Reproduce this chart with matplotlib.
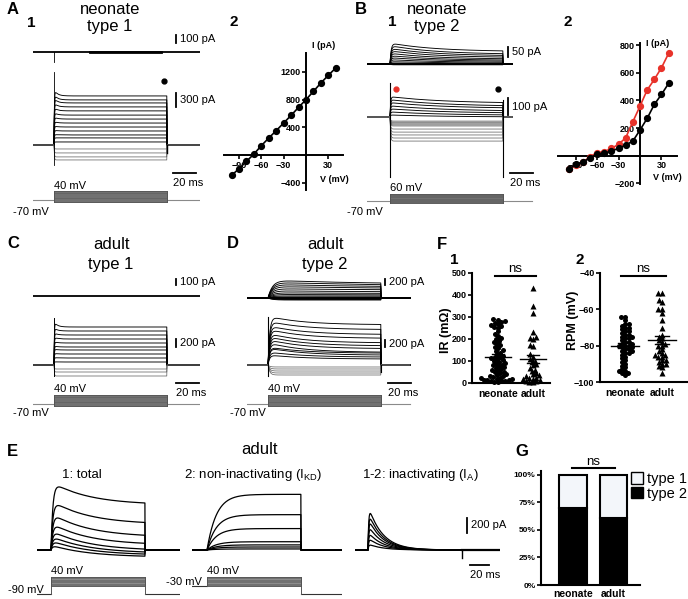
import numpy as np
import matplotlib
matplotlib.use('Agg')
import matplotlib.pyplot as plt
from matplotlib.patches import Patch

plt.rcParams['font.family'] = ['Liberation Sans', 'DejaVu Sans']
plt.rcParams['mathtext.fontset'] = 'custom'
plt.rcParams['mathtext.rm'] = 'Liberation Sans'
plt.rcParams['mathtext.it'] = 'Liberation Sans:italic'
plt.rcParams['mathtext.bf'] = 'Liberation Sans:bold'

# ---------------- data ----------------
# A2 / B2 : I-V curves
iv_v = [-100, -90, -80, -70, -60, -50, -40, -30, -20, -10, 0, 10, 20, 30, 40]
A_iv = [-294, -198, -92, 14, 135, 246, 352, 463, 573, 689, 800, 920, 1041, 1152, 1258]
B_iv_black = [-99, -63, -48, -14, 10, 17, 34, 53, 77, 106, 186, 270, 371, 443, 523]
B_iv_red = [-99, -67, -48, -7, 22, 29, 53, 82, 130, 246, 359, 475, 552, 636, 740]

# voltage protocols (mV)
steps_A = [-100, -90, -80, -70, -60, -50, -40, -30, -20, -10, 0, 10, 20, 30, 40]
steps_B = [-100, -90, -80, -70, -60, -50, -40, -30, -20, -10, 0, 10, 20, 30, 40, 50, 60]
steps_E = [-30, -20, -10, 0, 10, 20, 30, 40]

# current families (pA): initial amplitude / steady amplitude per sweep
A_low_peak = [1180, 1075, 995, 895, 795, 690, 595, 500, 405, 315, 225, 155, 65, -85, -170, -255, -320]
A_low_ss = [1050, 965, 900, 815, 730, 640, 555, 470, 385, 300, 215, 150, 65, -85, -170, -255, -320]
A_low_cap = (-430, 1560)
A_dot = (97, 1370)

B_up_peak = [105, 92, 78, 66, 54, 42, 32, 22, 12, 5, 0, -2, -4]
B_up_ss = [62, 48, 40, 32, 24, 18, 13, 8, 4, 1, 0, -2, -4]
B_low_peak = [120, 102, 85, 66, 48, 30, 12, -24, -30, -35, -41, -47, -53, -71, -89, -106, -124, -142]
B_low_ss = [80, 62, 50, 34, 22, 10, 0, -24, -30, -35, -41, -47, -53, -71, -89, -106, -124, -142]
B_low_cap = (-354, 200)
B_dot_red = (5, 163)
B_dot_black = (96, 163)

C_low_peak = [1075, 925, 800, 690, 580, 475, 395, 290, 185, 80, -100, -175, -275]
C_low_ss = [950, 850, 750, 650, 550, 450, 375, 275, 175, 75, -100, -175, -275]
C_low_cap = (-275, 1175)

D_up_peak = [600, 530, 460, 390, 315, 245, 175, 120, 70, 35, 0, -33, -50, -67]
D_up_ss = [460, 410, 360, 312, 262, 198, 148, 100, 66, 33, 0, -33, -50, -67]
D_low_peak = [1400, 1260, 1130, 1030, 910, 820, 730, 640, 520, 490, 375, 290, -57, -114, -172, -229, -286]
D_low_ss = [1150, 1010, 870, 760, 630, 545, 465, 360, 335, 280, 225, 170, -57, -114, -172, -229, -286]
D_low_cap = (-315, 1372)

E1_peak = [910, 660, 490, 360, 260, 185, 125, 65]
E1_ss = [600, 340, 170, 65, -10, -45, -70, -95]
E2_ss = [740, 470, 285, 110, 68, 40, 14]
E3_peak = [600, 506, 426, 333, 240, 160, 80]

# F : scatter
IR_neonate = [290, 288, 282, 278, 275, 270, 262, 258, 255, 252, 235, 225, 215, 205, 200,
              192, 185, 178, 172, 165, 160, 150, 145, 138, 130, 125, 120, 118, 112, 108,
              104, 100, 96, 92, 88, 84, 80, 76, 72, 68, 64, 60, 56, 52, 48, 44, 40, 36,
              32, 30, 28, 25, 22, 20, 18, 15, 15, 12, 10, 10, 8, 5, 5]
IR_adult = [430, 350, 320, 230, 210, 205, 200, 175, 170, 130, 120, 110, 100, 95, 85, 80,
            70, 60, 55, 45, 40, 35, 30, 25, 22, 20, 18, 15, 10, 8, 5, 3]
RPM_neonate = [-64, -64, -66, -68, -68, -69, -70, -70, -71, -72, -72, -73, -74, -74, -75,
               -75, -76, -76, -77, -78, -78, -79, -79, -80, -80, -80, -81, -81, -82, -82,
               -83, -83, -84, -84, -85, -86, -87, -88, -89, -90, -91, -92, -93, -94, -94,
               -95, -95, -96]
RPM_adult = [-51, -51, -55, -56, -60, -60, -62, -66, -70, -74, -75, -76, -77, -78, -79,
             -80, -80, -82, -83, -84, -85, -85, -86, -86, -88, -88, -89, -90, -90, -91,
             -92, -95]
groups = ['neonate', 'adult']

# G : fraction of type 2 (%)
type2_pct = [70, 61]

# ---------------- figure ----------------
W, H = 688, 599
fig = plt.figure(figsize=(W / 100, H / 100), dpi=100)


def box(x0, y0, x1, y1):
    return [x0 / W, 1 - y1 / H, (x1 - x0) / W, (y1 - y0) / H]


def txt(x, y, s, size=8, **kw):
    kw.setdefault('va', 'center')
    fig.text(x / W, 1 - y / H, s, fontsize=size, **kw)


class Tr:
    # trace axes: time in ms on x, current (or voltage) on y
    def __init__(self, x0, x1, y0, y1, x_on, base, k, pxms=1.13):
        self.ax = fig.add_axes(box(x0, y0, x1, y1))
        self.ax.axis('off')
        self.x_on, self.base, self.k, self.pxms = x_on, base, k, pxms
        self.ax.set_xlim(self.t(x0), self.t(x1))
        self.ax.set_ylim(self.i(y1), self.i(y0))

    def t(self, x):
        return (x - self.x_on) / self.pxms

    def i(self, y):
        return (self.base - y) * self.k

    def vbar(self, x, ybot, amount, label):
        self.ax.plot([self.t(x)] * 2, [self.i(ybot), self.i(ybot) + amount], color='k', lw=1.3)
        txt(x + 4, ybot - amount / self.k / 2, label, 8)

    def hbar(self, x, y, label):
        self.ax.plot([self.t(x), self.t(x) + 20], [self.i(y)] * 2, color='k', lw=1.3)
        txt(x, y + 10, label, 8)


def family(tr, peaks, sss, t_act, t_in, x0, x1, lw=0.65, gray_neg=True, dur=100):
    t = np.arange(tr.t(x0), tr.t(x1), 0.2)
    on = (t >= 0) & (t <= dur)
    for p, s in zip(peaks, sss):
        y = np.zeros_like(t)
        tt = t[on]
        y[on] = (s + (p - s) * np.exp(-tt / t_in)) * (1 - np.exp(-tt / t_act))
        col = '#5a5a5a' if (gray_neg and s < 0) else 'k'
        tr.ax.plot(t, y, color=col, lw=lw if col == 'k' else 0.5)


def flat(tr, x0, x1, lw=1.2):
    tr.ax.plot([tr.t(x0), tr.t(x1)], [0, 0], color='k', lw=lw)


def stim(tr, steps, x0, x1, pre, post, dur=100, holdcol='#8a8a8a'):
    lo, hi = min(steps), max(steps)
    ax = tr.ax
    ax.plot([tr.t(x0), 0], [pre, pre], color=holdcol, lw=0.8)
    ax.plot([dur, tr.t(x1)], [post, post], color=holdcol, lw=0.8)
    ax.plot([0, 0], [min(pre, lo), hi], color='#555555', lw=0.7)
    ax.plot([dur, dur], [min(post, lo), hi], color='#555555', lw=0.7)
    ax.fill_between([0, dur], lo, hi, color='#8c8c8c', lw=0)
    for v in steps:
        ax.plot([0, dur], [v, v], color='#5c5c5c', lw=0.4)
    ax.plot([0, dur, dur, 0, 0], [lo, lo, hi, hi, lo], color='#555555', lw=0.6)


# ---------- panel A ----------
A_up = Tr(33, 200, 30, 70, 54, 52, 12.5)
flat(A_up, 33, 200, 1.3)
A_up.ax.plot([A_up.t(90), 95], [0, 0], color='k', lw=2.0)
A_up.ax.plot([0, 0], [0, -125], color='k', lw=0.6)
A_up.vbar(176, 43, 100, '100 pA')

A_low = Tr(33, 200, 70, 180, 54, 145, 21.4)
family(A_low, A_low_peak, A_low_ss, 0.3, 3, 33, 200)
A_low.ax.plot([0, 0], A_low_cap, color='k', lw=0.6)
A_low.ax.plot([100, 100], [A_low_cap[0] * 0.4, 0], color='k', lw=1.0)
A_low.ax.plot(*A_dot, 'o', color='k', ms=3.5)
A_low.vbar(176, 107, 300, '300 pA')
A_low.hbar(173, 173, '20 ms')

A_st = Tr(33, 200, 185, 210, 54, 194.3, 12.22)
stim(A_st, steps_A, 33, 200, -70, -70)
txt(54, 186, '40 mV', 8)
txt(13, 212, '-70 mV', 8)

# A2 / B2 I-V


def iv_axes(x0, x1, y0, y1, xlim, ylim, yticks):
    ax = fig.add_axes(box(x0, y0, x1, y1))
    ax.patch.set_alpha(0)
    ax.set_xlim(*xlim)
    ax.set_ylim(*ylim)
    for s in ['top', 'right']:
        ax.spines[s].set_visible(False)
    for s in ['left', 'bottom']:
        ax.spines[s].set_position(('data', 0))
        ax.spines[s].set_linewidth(1.4)
    ax.set_xticks([-90, -60, -30, 30])
    ax.set_yticks(yticks)
    ax.tick_params(length=3, width=1.2, labelsize=6.5, pad=1)
    for lab in ax.get_xticklabels() + ax.get_yticklabels():
        lab.set_fontweight('bold')
    return ax


A2 = iv_axes(224, 343, 53, 190, (-110.2, 49.7), (-506, 1474), [-400, 400, 800, 1200])
A2.plot(iv_v, A_iv, '-o', color='k', lw=1.2, ms=4.2, clip_on=False, zorder=3)
txt(312, 45, 'I (pA)', 6.5, weight='bold')
txt(320, 179, 'V (mV)', 6.5, weight='bold')

B2 = iv_axes(558, 677, 43, 184, (-114.7, 51.7), (-204.6, 815), [-200, 200, 400, 600, 800])
B2.plot(iv_v, B_iv_red, '-o', color='#e8322a', lw=1.2, ms=4.2, clip_on=False, zorder=3)
B2.plot(iv_v, B_iv_black, '-o', color='k', lw=1.2, ms=4.2, clip_on=False, zorder=4)
txt(646, 44, 'I (pA)', 6.5, weight='bold')
txt(653, 178, 'V (mV)', 6.5, weight='bold')

# ---------- panel B ----------
B_up = Tr(367, 535, 35, 70, 390, 64, 5)
family(B_up, B_up_peak, B_up_ss, 1.0, 40, 367, 512, gray_neg=False)
flat(B_up, 367, 512, 1.4)
B_up.vbar(508, 57, 50, '50 pA')

B_low = Tr(367, 535, 75, 180, 390, 117, 5.9)
family(B_low, B_low_peak, B_low_ss, 0.5, 50, 367, 512)
B_low.ax.plot([0, 0], B_low_cap, color='k', lw=0.8)
B_low.ax.plot([100, 100], [B_low_cap[0], 100], color='k', lw=0.8)
B_low.ax.plot(*B_dot_red, 'o', color='#e8322a', ms=3.5)
B_low.ax.plot(*B_dot_black, 'o', color='k', ms=3.5)
B_low.vbar(508, 115, 100, '100 pA')
B_low.hbar(510, 173, '20 ms')

B_st = Tr(367, 535, 188, 208, 390, 197.4, 17.78)
stim(B_st, steps_B, 367, 532, -70, -70)
txt(390, 188, '60 mV', 8)
txt(347, 212, '-70 mV', 8)

# ---------- panel C ----------
C_up = Tr(33, 200, 275, 305, 54, 296, 16.7)
flat(C_up, 33, 200, 1.3)
C_up.vbar(176, 285, 100, '100 pA')

C_low = Tr(33, 200, 315, 388, 54, 365, 25)
family(C_low, C_low_peak, C_low_ss, 0.3, 3, 33, 200)
C_low.ax.plot([0, 0], C_low_cap, color='k', lw=0.7)
C_low.vbar(176, 347, 200, '200 pA')
C_low.hbar(176, 383, '20 ms')

C_st = Tr(33, 200, 390, 412, 54, 398.3, 12.22)
stim(C_st, steps_A, 33, 200, -70, -70)
txt(54, 389, '40 mV', 8)
txt(13, 413, '-70 mV', 8)

# ---------- panel D ----------
D_up = Tr(247, 412, 275, 305, 268, 298, 33.3)
family(D_up, D_up_peak, D_up_ss, 4, 80, 247, 410, gray_neg=False)
flat(D_up, 247, 410, 1.4)
D_up.vbar(385, 285, 200, '200 pA')

D_low = Tr(247, 412, 315, 388, 268, 365, 28.6)
family(D_low, D_low_peak, D_low_ss, 1.5, 30, 247, 410)
D_low.ax.plot([0, 0], D_low_cap, color='k', lw=0.8)
D_low.ax.plot([100, 100], [D_low_cap[0] * 0.6, 0], color='k', lw=0.8)
D_low.vbar(385, 347, 200, '200 pA')
D_low.hbar(388, 383, '20 ms')

D_st = Tr(247, 412, 390, 412, 268, 398.3, 12.22)
stim(D_st, steps_A, 247, 410, -70, -70)
txt(268, 389, '40 mV', 8)
txt(230, 413, '-70 mV', 8)

# ---------- panel E ----------
E1 = Tr(37, 180, 480, 565, 51, 550, 13.3, pxms=0.94)
family(E1, E1_peak, E1_ss, 2, 40, 37, 180, lw=0.9, gray_neg=False)
E2 = Tr(192, 342, 480, 565, 207, 550, 13.3, pxms=0.94)
family(E2, E2_ss, E2_ss, 10, 1e9, 192, 342, lw=0.9, gray_neg=False)
E3 = Tr(355, 500, 480, 570, 368, 550, 13.3, pxms=0.94)
family(E3, E3_peak, [0] * len(E3_peak), 0.8, 15, 355, 500, lw=0.9, gray_neg=False)
E3.ax.plot([100, 100], [-100, 0], color='k', lw=1.0)
E3.ax.plot([100, E3.t(500)], [0, 0], color='k', lw=1.6)
E3.vbar(467, 533, 200, '200 pA')
E3.hbar(470, 565, '20 ms')

E1_st = Tr(37, 180, 570, 598, 51, 582.2, 7.647, pxms=0.94)
stim(E1_st, steps_E, 37, 180, -90, -90, holdcol='#333333')
E2_st = Tr(192, 342, 570, 598, 207, 582.2, 7.647, pxms=0.94)
stim(E2_st, steps_E, 192, 342, -30, -90, holdcol='#333333')
txt(51, 571, '40 mV', 8)
txt(8, 590, '-90 mV', 8)
txt(207, 571, '40 mV', 8)
txt(166, 582, '-30 mV', 8)

# ---------- panel F ----------


def swarm(vals, ppx, ppy, d):
    vals = np.asarray(vals, float)
    xs = np.zeros(len(vals))
    placed = []
    for idx in np.argsort(vals):
        y = vals[idx] * ppy
        bad = []
        for px, py in placed:
            dy = abs(py - y)
            if dy < d:
                w = np.sqrt(d * d - dy * dy)
                bad.append((px - w, px + w))
        cands = sorted([0.0] + [b for iv in bad for b in iv], key=abs)
        x = 0.0
        for c in cands:
            if all(not (lo + 1e-6 < c < hi - 1e-6) for lo, hi in bad):
                x = c
                break
        placed.append((x, y))
        xs[idx] = x / ppx
    return xs


def dot_axes(x0, x1, y0, y1, xlim, ylim, yticks, data, ppx, ppy, ns_y, ns_t):
    ax = fig.add_axes(box(x0, y0, x1, y1))
    ax.patch.set_alpha(0)
    ax.set_xlim(*xlim)
    ax.set_ylim(*ylim)
    for s in ['top', 'right']:
        ax.spines[s].set_visible(False)
    for s in ['left', 'bottom']:
        ax.spines[s].set_linewidth(1.5)
    ax.set_yticks(yticks)
    ax.set_xticks([0, 1])
    ax.set_xticklabels(groups)
    ax.tick_params(axis='y', length=3, width=1.2, labelsize=6.5, pad=1)
    ax.tick_params(axis='x', length=0, labelsize=7.5, pad=4)
    for lab in ax.get_xticklabels() + ax.get_yticklabels():
        lab.set_fontweight('bold')
    for i, (vals, mk) in enumerate(zip(data, ['o', '^'])):
        base = ylim[0]
        xs = swarm(np.asarray(vals) - base, ppx, ppy, 3.6)
        ax.plot(i + xs, vals, mk, color='k', ms=3.6 if mk == 'o' else 3.8,
                mec='none', clip_on=False)
        m = np.mean(vals)
        sem = np.std(vals, ddof=1) / np.sqrt(len(vals))
        ax.plot([i - 0.38, i + 0.38], [m, m], color='k', lw=1.0)
        ax.plot([i, i], [m - sem, m + sem], color='k', lw=1.0)
        for e in (m - sem, m + sem):
            ax.plot([i - 0.18, i + 0.18], [e, e], color='k', lw=1.0)
    ax.plot([-0.1, 1.1], [ns_y, ns_y], color='k', lw=1.5, clip_on=False)
    ax.text(0.5, ns_t, 'ns', ha='center', va='center', fontsize=9.5)
    return ax


F1 = dot_axes(472, 550, 273, 383, (-0.743, 1.486), (0, 500), [0, 100, 200, 300, 400, 500],
              [IR_neonate, IR_adult], 35, 0.22, 486, 518)
F2 = dot_axes(600, 687, 273, 382, (-0.676, 1.676), (-100, -40), [-100, -80, -60, -40],
              [RPM_neonate, RPM_adult], 37, 1.817, -41.7, -37.8)
txt(446, 330, 'IR (m\u03a9)', 9, weight='bold', rotation=90, ha='center')
txt(573, 320, 'RPM (mV)', 9, weight='bold', rotation=90, ha='center')

# ---------- panel G ----------
G = fig.add_axes(box(541, 471, 640, 585))
G.patch.set_alpha(0)
G.set_xlim(-0.79, 1.65)
G.set_ylim(0, 103.6)
type1_pct = [100 - v for v in type2_pct]
G.bar([0, 1], type2_pct, width=0.67, color='k', edgecolor='k', lw=1.5)
G.bar([0, 1], type1_pct, bottom=type2_pct, width=0.67, color='#f3f6fa', edgecolor='k', lw=1.5)
for s in ['top', 'right']:
    G.spines[s].set_visible(False)
for s in ['left', 'bottom']:
    G.spines[s].set_linewidth(1.5)
G.set_yticks([0, 25, 50, 75, 100])
G.set_yticklabels(['0%', '25%', '50%', '75%', '100%'])
G.set_xticks([0, 1])
G.set_xticklabels(groups)
G.tick_params(axis='y', length=3, width=1.2, labelsize=6, pad=1)
G.tick_params(axis='x', length=0, labelsize=7.5, pad=3)
for lab in G.get_xticklabels() + G.get_yticklabels():
    lab.set_fontweight('bold')
G.plot([-0.02, 1.04], [106.4, 106.4], color='k', lw=1.5, clip_on=False)
G.text(0.5, 111.8, 'ns', ha='center', va='center', fontsize=9.5)
fig.legend(handles=[Patch(facecolor='#f3f6fa', edgecolor='k', lw=1.0, label='type 1'),
                    Patch(facecolor='k', edgecolor='k', label='type 2')],
           loc='upper left', bbox_to_anchor=(631 / W, 1 - 472 / H), frameon=False,
           fontsize=10.5, handlelength=0.8, handleheight=0.8, handletextpad=0.3,
           labelspacing=0.05, borderpad=0, borderaxespad=0)

# ---------- labels ----------
bold = dict(weight='bold')
txt(7, 9, 'A', 12, **bold)
txt(27, 23, '1', 11, **bold)
txt(110, 9, 'neonate', 12, ha='center')
txt(110, 27, 'type 1', 12, ha='center')
txt(229, 22, '2', 11, **bold)
txt(355, 9, 'B', 12, **bold)
txt(388, 22, '1', 11, **bold)
txt(437, 10, 'neonate', 12, ha='center')
txt(437, 27, 'type 2', 12, ha='center')
txt(563, 22, '2', 11, **bold)
txt(7, 244, 'C', 12, **bold)
txt(111, 245, 'adult', 12, ha='center')
txt(111, 264, 'type 1', 12, ha='center')
txt(227, 244, 'D', 12, **bold)
txt(325, 245, 'adult', 12, ha='center')
txt(325, 265, 'type 2', 12, ha='center')
txt(7, 452, 'E', 12, **bold)
txt(260, 450, 'adult', 12, ha='center')
txt(82, 475, '1: total', 9.5, ha='center')
txt(253, 475, r'2: non-inactivating (I$_{\mathrm{KD}}$)', 9.5, ha='center')
txt(420, 475, r'1-2: inactivating (I$_{\mathrm{A}}$)', 9.5, ha='center')
txt(437, 245, 'F', 12, **bold)
txt(450, 260, '1', 11, **bold)
txt(575, 260, '2', 11, **bold)
txt(515, 452, 'G', 12, **bold)

fig.savefig('out.png', dpi=100)
